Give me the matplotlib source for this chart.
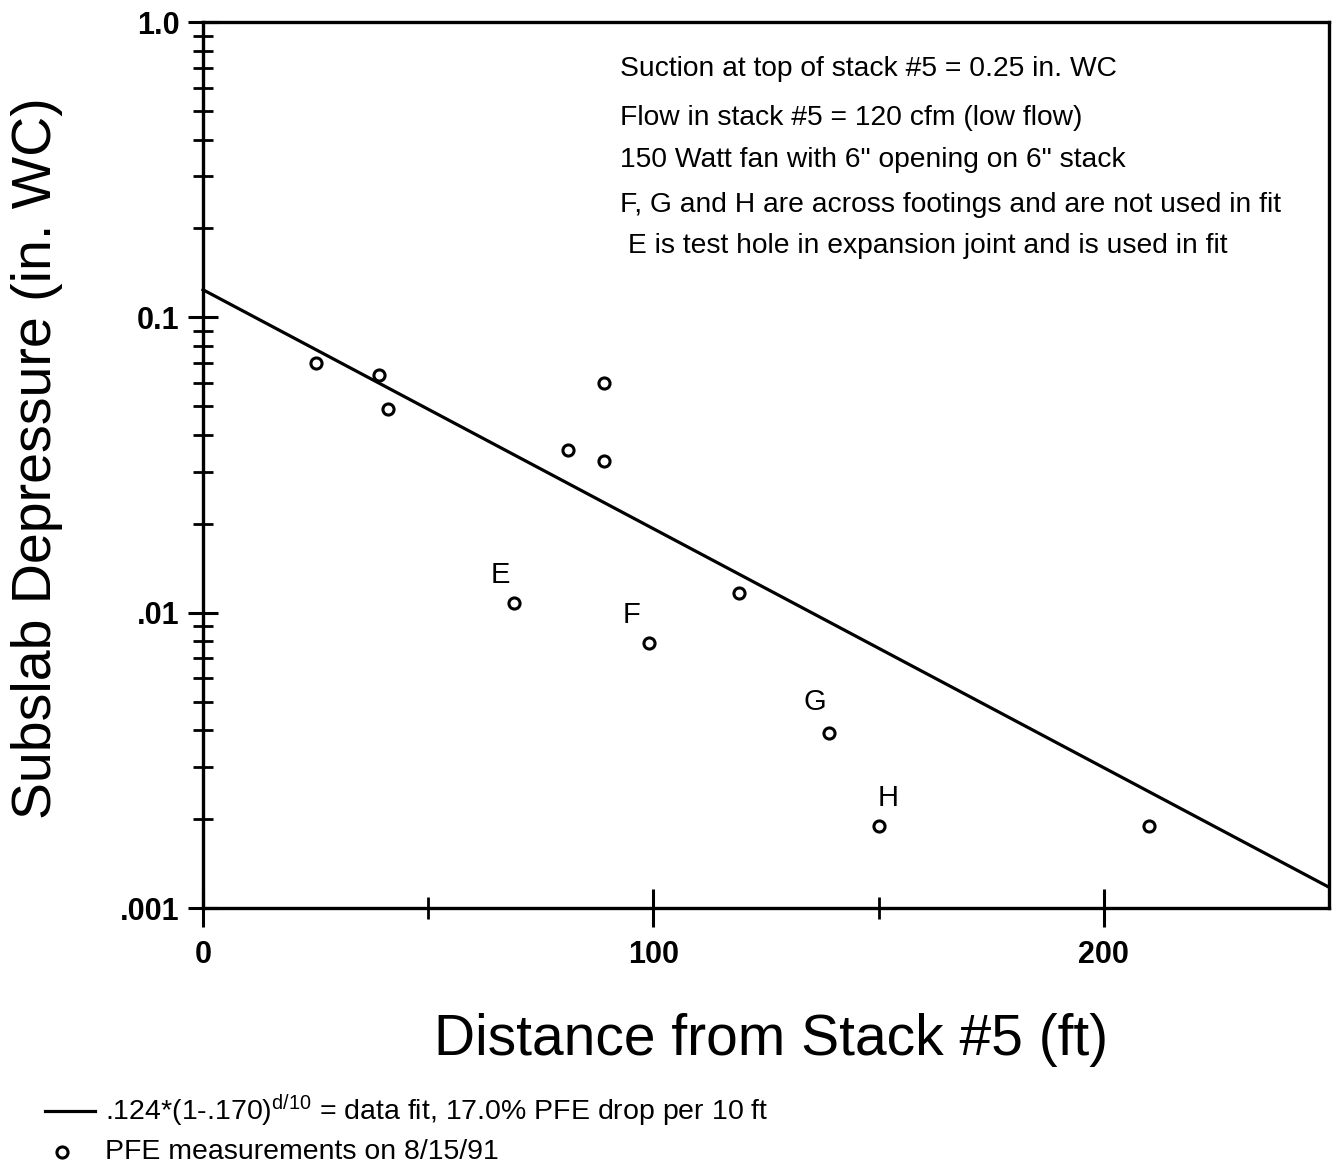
import matplotlib
matplotlib.use("Agg")
import matplotlib.pyplot as plt
from matplotlib.lines import Line2D
from matplotlib.ticker import FixedLocator, NullFormatter, FixedFormatter
import numpy as np

plt.rcParams['font.family'] = ['Liberation Sans', 'DejaVu Sans']
plt.rcParams['mathtext.fontset'] = 'custom'
plt.rcParams['mathtext.rm'] = 'Liberation Sans'
plt.rcParams['mathtext.it'] = 'Liberation Sans'

# ---- data ----
distance_ft = [25, 39, 41, 81, 89, 89, 69, 99, 119, 139, 150, 210]
depressure_inwc = [0.070, 0.064, 0.049, 0.0356, 0.060, 0.0327, 0.0108, 0.0079, 0.0117, 0.0039, 0.0019, 0.0019]
point_labels = ['', '', '', '', '', '', 'E', 'F', '', 'G', 'H', '']
label_offsets_px = {'E': (-13, 28), 'F': (-17, 28), 'G': (-14, 31), 'H': (10, 28)}

fit_a = 0.124
fit_drop = 0.170
fit_x = [0, 250]

x_major_ticks = [0, 100, 200]
x_major_labels = ['0', '100', '200']
x_minor_ticks = [50, 150]
y_major_ticks = [0.001, 0.01, 0.1, 1.0]
y_major_labels = ['.001', '.01', '0.1', '1.0']

notes = [
    "Suction at top of stack #5 = 0.25 in. WC",
    "Flow in stack #5 = 120 cfm (low flow)",
    "150 Watt fan with 6\" opening on 6\" stack",
    "F, G and H are across footings and are not used in fit",
    " E is test hole in expansion joint and is used in fit",
]

W, H = 1335, 1167
fig = plt.figure(figsize=(W / 100, H / 100), dpi=100)
ax = fig.add_axes([203 / W, 1 - 908 / H, (1329 - 203) / W, (908 - 22) / H])

ax.set_yscale('log')
ax.set_xlim(0, 250)
ax.set_ylim(0.001, 1.0)

fit_y = [fit_a * (1 - fit_drop) ** (d / 10) for d in fit_x]
ax.plot(fit_x, fit_y, color='black', lw=2.3, clip_on=False, zorder=3)
ax.plot(distance_ft, depressure_inwc, linestyle='none', marker='o', markersize=8,
        markerfacecolor='white', markeredgecolor='black', markeredgewidth=2.2, zorder=4)

for x, y, lab in zip(distance_ft, depressure_inwc, point_labels):
    if lab:
        dx, dy = label_offsets_px[lab]
        ax.annotate(lab, (x, y), xytext=(dx, dy), textcoords='offset pixels',
                    ha='center', va='center', fontsize=21)

for s in ax.spines.values():
    s.set_linewidth(2.4)

ax.xaxis.set_major_locator(FixedLocator(x_major_ticks))
ax.xaxis.set_major_formatter(FixedFormatter(x_major_labels))
ax.xaxis.set_minor_locator(FixedLocator(x_minor_ticks))
ax.xaxis.set_minor_formatter(NullFormatter())
ax.yaxis.set_major_locator(FixedLocator(y_major_ticks))
ax.yaxis.set_major_formatter(FixedFormatter(y_major_labels))
minor_y = [m * 10.0 ** e for e in (-3, -2, -1) for m in range(2, 10)]
ax.yaxis.set_minor_locator(FixedLocator(minor_y))
ax.yaxis.set_minor_formatter(NullFormatter())

ax.tick_params(axis='x', which='major', direction='inout', length=28, width=2.2, labelsize=22, pad=9)
ax.tick_params(axis='x', which='minor', direction='inout', length=16, width=2.0)
ax.tick_params(axis='y', which='major', direction='inout', length=22, width=2.2, labelsize=22, pad=6)
ax.tick_params(axis='y', which='minor', direction='inout', length=14, width=2.0)
for t in ax.get_xticklabels() + ax.get_yticklabels():
    t.set_fontweight('bold')

# axis titles
fig.text(37 / W, 1 - 458 / H, "Subslab Depressure (in. WC)", rotation=90,
         ha='center', va='center', fontsize=40)
fig.text(771 / W, 1 - 1040 / H, "Distance from Stack #5 (ft)",
         ha='center', va='center', fontsize=41)

# notes
note_y = [69, 118, 160, 205, 246]
for txt, yy in zip(notes, note_y):
    fig.text(620 / W, 1 - yy / H, txt, ha='left', va='center', fontsize=20.3)

# legend
fig.add_artist(Line2D([45 / W, 95 / W], [1 - 1111 / H, 1 - 1111 / H], color='black', lw=2.3))
fig.text(105 / W, 1 - 1111 / H,
         r".124*(1-.170)$^{\mathrm{d/10}}$ = data fit, 17.0% PFE drop per 10 ft",
         ha='left', va='center', fontsize=20.5)
fig.add_artist(Line2D([62 / W], [1 - 1152 / H], linestyle='none', marker='o', markersize=8,
                      markerfacecolor='white', markeredgecolor='black', markeredgewidth=2.2))
fig.text(105 / W, 1 - 1152 / H, "PFE measurements on 8/15/91",
         ha='left', va='center', fontsize=20.4)

fig.savefig("out.png", dpi=100)
